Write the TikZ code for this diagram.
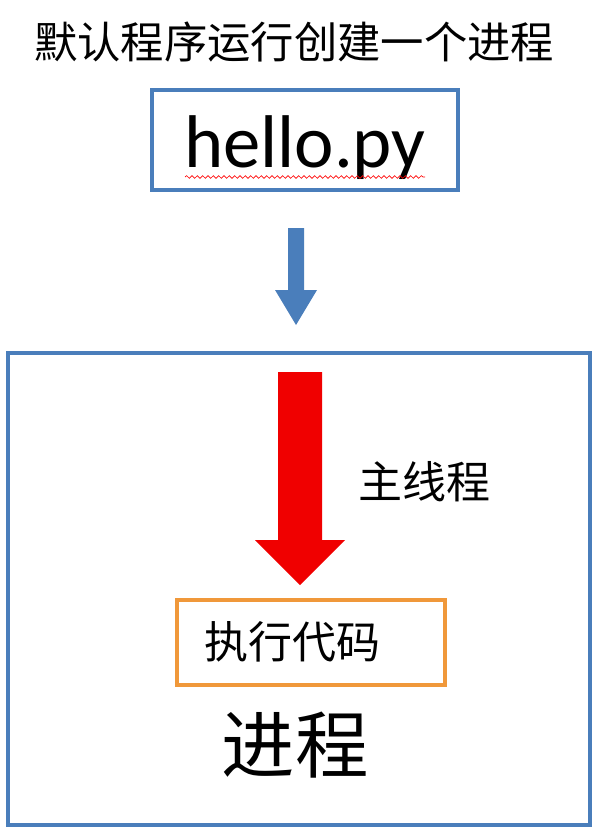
\documentclass[tikz,border=0pt]{standalone}
\usepackage{fontspec}
\setmainfont{Carlito}
\newfontfamily\cjk{Noto Sans CJK SC}
\usetikzlibrary{decorations.pathmorphing}
\definecolor{bl}{HTML}{4A7EBB}
\definecolor{rd}{HTML}{F00000}
\definecolor{og}{HTML}{F0983A}
\begin{document}
\begin{tikzpicture}[x=0.75pt,y=-0.75pt,
  box/.style={draw=bl,line width=2.3pt},
  lbl/.style={inner sep=0pt,anchor=center}]
\useasboundingbox (0,0) rectangle (601,835);
\node[lbl,font=\cjk\fontsize{32.5}{38}\selectfont] (title) at (294,42) {默认程序运行创建一个进程};
\draw[box] (152,90) rectangle (458,190);
\node[lbl,font=\fontsize{56}{64}\selectfont] (hello) at (305,148) {hello.py};
\draw[red,line width=0.5pt,decorate,decoration={snake,amplitude=1pt,segment length=4pt}] (185,177) -- (425,177);
\fill[bl] (288,228) -- (304,228) -- (304,290) -- (317,290) -- (296,325) -- (275,290) -- (288,290) -- cycle;
\draw[box] (8,353) rectangle (590,825);
\fill[rd] (278,372) -- (322,372) -- (322,540) -- (345,540) -- (300,585) -- (255,540) -- (278,540) -- cycle;
\node[lbl,font=\cjk\fontsize{33}{38}\selectfont] (main) at (424,482) {主线程};
\draw[draw=og,line width=2.3pt] (177,600) rectangle (445,685);
\node[lbl,font=\cjk\fontsize{33}{38}\selectfont] (exec) at (292,642) {执行代码};
\node[lbl,font=\cjk\fontsize{55}{62}\selectfont] (proc) at (295,745) {进程};
\end{tikzpicture}
\end{document}
